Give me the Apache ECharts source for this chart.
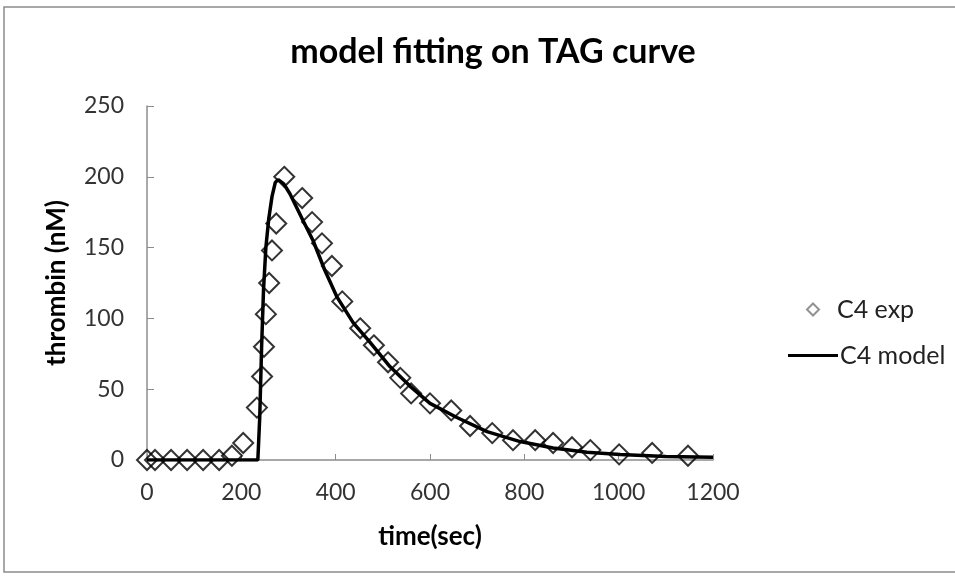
<!DOCTYPE html>
<html>
<head>
<meta charset="utf-8">
<script src="https://cdn.jsdelivr.net/npm/echarts@6/dist/echarts.min.js"></script>
<style>
html,body{margin:0;padding:0;background:#fff;}
#chart{width:955px;height:579px;}
</style>
</head>
<body>
<div id="chart"></div>
<script>
// Experimental data (time in sec, thrombin in nM)
const expTime = [0, 17, 51, 85, 119, 153, 180, 204, 233, 244, 248, 252, 259, 265, 274, 291, 329, 350, 371, 392, 414, 452, 481, 511, 537, 560, 600, 645, 685, 732, 776, 823, 861, 901, 940, 1001, 1071, 1147];
const expThrombin = [0, 0, 0, 0, 0, 0, 3, 12, 37, 59, 80, 103, 125, 148, 167, 200, 185, 168, 153, 137, 112, 93, 81, 69, 58, 47, 40, 35, 24, 19, 14, 14, 12, 9, 7, 4, 5, 3];
// Model curve
const modelTime = [0, 235, 239, 243, 247, 252, 258, 265, 272, 278, 290, 303, 331, 352, 377, 403, 437, 473, 515, 558, 600, 657, 721, 791, 861, 933, 1003, 1100, 1200];
const modelThrombin = [0, 0, 30, 80, 120, 150, 170, 186, 196, 198, 195, 188, 169, 155, 134, 115, 97, 83, 66, 52, 40, 30, 20, 13, 8.5, 5.5, 3.8, 2.5, 2];
const xTicks = [0, 200, 400, 600, 800, 1000, 1200];
const yTicks = [0, 50, 100, 150, 200, 250];

const FONT = 'Lato';
const chart = echarts.init(document.getElementById('chart'));
chart.setOption({
  animation: false,
  backgroundColor: '#fff',
  textStyle: {fontFamily: FONT},
  graphic: [{
    type: 'rect', shape: {x: 4, y: 7, width: 960, height: 565},
    style: {fill: 'none', stroke: '#8c8c8c', lineWidth: 1.5}, silent: true
  }],
  title: {
    text: 'model fitting on TAG curve',
    left: 488, top: 30, textAlign: 'center',
    textStyle: {fontFamily: FONT, fontSize: 34, fontWeight: 'bold', color: '#000'}
  },
  legend: [{
    orient: 'vertical', left: 801, top: 292,
    itemWidth: 12, itemHeight: 12,
    textStyle: {fontFamily: FONT, fontSize: 25, color: '#222', padding: [0, 0, 0, 13]},
    data: [{name: 'C4 exp', icon: 'diamond', itemStyle: {color: 'transparent', borderColor: '#777', borderWidth: 2}}]
  }, {
    orient: 'vertical', left: 783, top: 338,
    itemWidth: 50, itemHeight: 3,
    textStyle: {fontFamily: FONT, fontSize: 25, color: '#222', padding: [0, 0, 0, -3]},
    data: [{name: 'C4 model', icon: 'rect', itemStyle: {color: '#000'}}]
  }],
  grid: {left: 147, right: 242, top: 106, bottom: 119, containLabel: false},
  xAxis: {
    type: 'value', min: xTicks[0], max: xTicks[xTicks.length - 1], interval: 200,
    name: 'time(sec)', nameLocation: 'middle', nameGap: 64,
    nameTextStyle: {fontFamily: FONT, fontSize: 26, fontWeight: 'bold', color: '#000'},
    axisLine: {lineStyle: {color: '#8c8c8c', width: 1.5}},
    axisTick: {show: true, inside: true, length: 6, lineStyle: {color: '#8c8c8c'}},
    axisLabel: {fontFamily: FONT, fontSize: 23, color: '#333', margin: 21, formatter: v => String(v)},
    splitLine: {show: false}
  },
  yAxis: {
    type: 'value', min: yTicks[0], max: yTicks[yTicks.length - 1], interval: 50,
    name: 'thrombin (nM)', nameLocation: 'middle', nameGap: 77,
    nameTextStyle: {fontFamily: FONT, fontSize: 26, fontWeight: 'bold', color: '#000'},
    axisLine: {show: true, lineStyle: {color: '#8c8c8c', width: 1.5}},
    axisTick: {show: true, inside: true, length: 7, lineStyle: {color: '#8c8c8c'}},
    axisLabel: {fontFamily: FONT, fontSize: 23, color: '#333', margin: 23, formatter: v => String(v)},
    splitLine: {show: false}
  },
  series: [
    {
      name: 'C4 exp', type: 'scatter', symbol: 'diamond', symbolSize: 20,
      itemStyle: {color: 'transparent', borderColor: '#000', borderWidth: 2},
      data: expTime.map((t, i) => [t, expThrombin[i]]),
      z: 2
    },
    {
      name: 'C4 model', type: 'line', symbol: 'none', smooth: false,
      lineStyle: {color: '#000', width: 3.5}, itemStyle: {color: '#000'},
      data: modelTime.map((t, i) => [t, modelThrombin[i]]),
      z: 3
    }
  ]
});
</script>
</body>
</html>
